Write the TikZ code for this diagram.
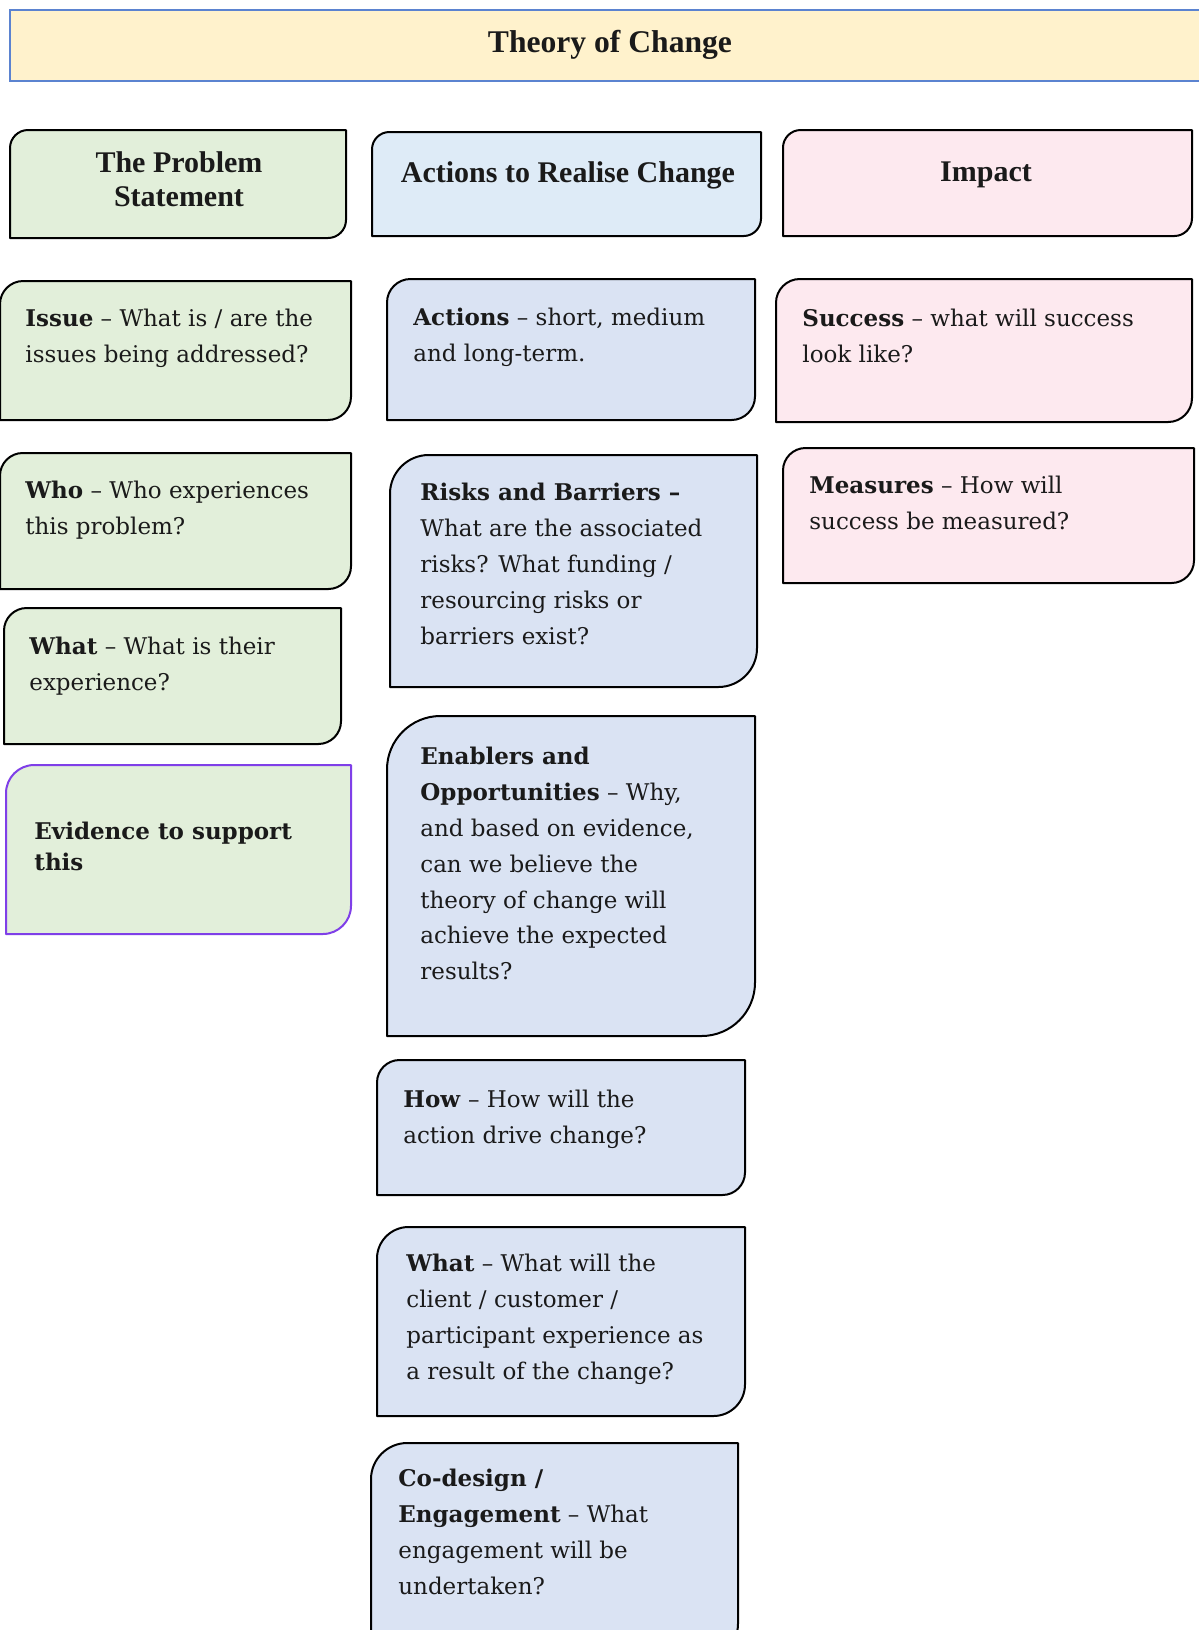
\documentclass[tikz,border=0pt]{standalone}
\usepackage{fontspec}
\setmainfont{DejaVu Serif}
\newfontfamily\hdfont{Liberation Serif}
\definecolor{gfill}{HTML}{E2EFDA}
\definecolor{hbfill}{HTML}{DEEBF7}
\definecolor{bfill}{HTML}{DAE3F3}
\definecolor{pfill}{HTML}{FDE9EF}
\definecolor{yfill}{HTML}{FFF2CC}
\definecolor{tborder}{HTML}{5B83D0}
\definecolor{purp}{HTML}{7F3FE8}
\definecolor{txt}{HTML}{1A1A1A}
\newcommand\tocbox[7]{%
  \pgfmathsetmacro\rr{0.1667*min(#4-#2,#5-#3)}%
  \draw[boxline,fill=#6,draw=#7] (#2,#5) -- (#2,{#3+\rr}) .. controls (#2,{#3+0.45*\rr}) and ({#2+0.45*\rr},#3) .. ({#2+\rr},#3) -- (#4,#3) -- (#4,{#5-\rr}) .. controls (#4,{#5-0.45*\rr}) and ({#4-0.45*\rr},#5) .. ({#4-\rr},#5) -- cycle;%
  \coordinate (#1) at ({(#2+#4)/2},{(#3+#5)/2});%
}
\tikzset{
  boxline/.style={line width=1pt, line join=round},
  body/.style={anchor=north west, inner sep=0pt, align=left, text=txt,
    font=\fontsize{11.5}{17.9}\selectfont},
  head/.style={anchor=center, inner sep=0pt, align=center, text=txt,
    font=\hdfont\bfseries\fontsize{15}{17}\selectfont},
}
\begin{document}
\begin{tikzpicture}[x=0.5pt,y=-0.5pt]
\useasboundingbox (0,0) rectangle (1199,1630);
\clip (0,0) rectangle (1199,1630);
\fill[white] (0,0) rectangle (1199,1630);
% title
\draw[line width=1.2pt, draw=tborder, fill=yfill] (10,10) rectangle (1215,81);
\coordinate (titlebox) at (612,45);
\node[head, font=\hdfont\bfseries\fontsize{15.8}{18}\selectfont] (title) at (610,45) {Theory of Change};
% headers
\tocbox{hprob}{10}{130}{346}{238}{gfill}{black}
\tocbox{hact}{372}{132}{761}{236}{hbfill}{black}
\tocbox{himp}{783}{130}{1192}{236}{pfill}{black}
\node[head] (hprobt) at (179,179) {The Problem\\Statement};
\node[head] (hactt) at (568,175) {Actions to Realise Change};
\node[head] (himpt) at (986,175) {Impact};
% left column
\tocbox{issue}{0}{281}{351}{420}{gfill}{black}
\tocbox{who}{0}{453}{351}{589}{gfill}{black}
\tocbox{whatl}{4}{608}{341}{744}{gfill}{black}
\tocbox{evid}{6}{765}{351}{934}{gfill}{purp}
\node[body] (issuet) at (25,309) {\textbf{Issue} \textendash{} What is / are the\\issues being addressed?};
\node[body] (whot) at (25,481) {\textbf{Who} \textendash{} Who experiences\\this problem?};
\node[body] (whatlt) at (29,637) {\textbf{What} \textendash{} What is their\\experience?};
\node[body, font=\bfseries\fontsize{11.5}{15.5}\selectfont] (evidt) at (34,822) {Evidence to support\\this};
% middle column
\tocbox{act}{387}{279}{755}{420}{bfill}{black}
\tocbox{risk}{390}{455}{757}{687}{bfill}{black}
\tocbox{enab}{387}{716}{755}{1036}{bfill}{black}
\tocbox{how}{377}{1060}{745}{1195}{bfill}{black}
\tocbox{whatm}{377}{1227}{745}{1416}{bfill}{black}
\tocbox{codes}{371}{1443}{738}{1660}{bfill}{black}
\node[body] (actt) at (413,308) {\textbf{Actions} \textendash{} short, medium\\and long-term.};
\node[body] (riskt) at (420,483) {\textbf{Risks and Barriers \textendash{}}\\What are the associated\\risks? What funding /\\resourcing risks or\\barriers exist?};
\node[body] (enabt) at (420,747) {\textbf{Enablers and}\\\textbf{Opportunities} \textendash{} Why,\\and based on evidence,\\can we believe the\\theory of change will\\achieve the expected\\results?};
\node[body] (howt) at (403,1090) {\textbf{How} \textendash{} How will the\\action drive change?};
\node[body] (whatmt) at (406,1254) {\textbf{What} \textendash{} What will the\\client / customer /\\participant experience as\\a result of the change?};
\node[body] (codest) at (398,1469) {\textbf{Co-design /}\\\textbf{Engagement} \textendash{} What\\engagement will be\\undertaken?};
% right column
\tocbox{succ}{776}{279}{1192}{422}{pfill}{black}
\tocbox{meas}{783}{448}{1194}{583}{pfill}{black}
\node[body] (succt) at (802,309) {\textbf{Success} \textendash{} what will success\\look like?};
\node[body] (meast) at (809,476) {\textbf{Measures} \textendash{} How will\\success be measured?};
\end{tikzpicture}
\end{document}
